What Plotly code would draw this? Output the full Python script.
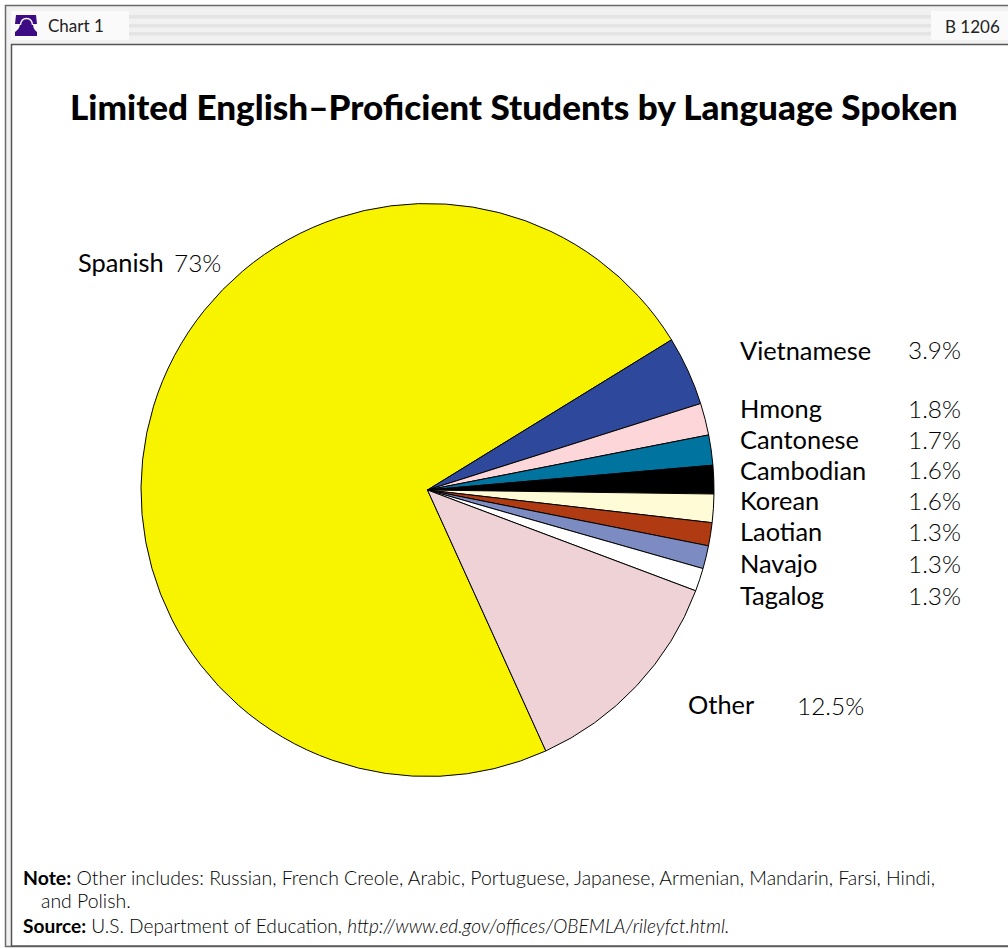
import plotly.graph_objects as go

# Share of limited English-proficient students, clockwise from Spanish
languages = ["Spanish", "Vietnamese", "Hmong", "Cantonese", "Cambodian",
             "Korean", "Laotian", "Navajo", "Tagalog", "Other"]
shares = [73, 3.9, 1.8, 1.7, 1.6, 1.6, 1.3, 1.3, 1.3, 12.5]
share_labels = ["73%", "3.9%", "1.8%", "1.7%", "1.6%", "1.6%", "1.3%", "1.3%", "1.3%", "12.5%"]
slice_colors = ["#f8f400", "#2e489b", "#fcd6d8", "#00739f", "#000000",
                "#fffbd6", "#b03a12", "#7c8cc2", "#ffffff", "#efd2d5"]

W, H = 1008, 949
BODY = "Lato"


def px(x):
    return x / W


def py(y):
    return 1 - y / H


def rect(x0, y0, x1, y1, fill=None, line=None, width=1):
    return dict(type="rect", xref="paper", yref="paper",
                x0=px(x0), x1=px(x1), y0=py(y0), y1=py(y1),
                fillcolor=fill or "rgba(0,0,0,0)",
                line=dict(color=line or "rgba(0,0,0,0)", width=width if line else 0),
                layer="below")


def text(x, y, s, size, anchor="left", weight=400, color="#111111", family=BODY):
    return dict(xref="paper", yref="paper", x=px(x), y=py(y), text=s, showarrow=False,
                xanchor=anchor, yanchor="middle", align="left",
                font=dict(family=family, size=size, color=color, weight=weight))


shapes = [
    rect(5.5, 5.5, 1012, 946.5, fill="#f1f1f1", line="#6a6a6a", width=1.5),
    rect(11, 11, 129, 40, fill="#fafafa"),
    rect(931, 11, 1008, 40, fill="#fafafa"),
]
for top in (15, 24, 32):
    shapes.append(rect(129, top, 931, top + 3.5, fill="#e4e4e4"))
shapes.append(rect(11.5, 44.5, 1012, 946, fill="#ffffff", line="#555555", width=1.5))

# Bell emblem in the header tab: flat-topped silhouette with a thin white arch
shapes.append(dict(type="path", xref="paper", yref="paper", layer="above",
                   path=" ".join([
                       f"M {px(15)} {py(36)}", f"L {px(37)} {py(36)}", f"L {px(37)} {py(32)}",
                       f"C {px(34)} {py(30)} {px(33)} {py(27)} {px(33)} {py(24)}",
                       f"L {px(37)} {py(24)}", f"L {px(36)} {py(15)}", f"L {px(16)} {py(15)}",
                       f"L {px(15)} {py(24)}", f"L {px(20)} {py(24)}",
                       f"C {px(20)} {py(27)} {px(18)} {py(30)} {px(15)} {py(32)}", "Z"]),
                   fillcolor="#3d0c84", line=dict(width=0)))
shapes.append(dict(type="path", xref="paper", yref="paper", layer="above",
                   path=" ".join([
                       f"M {px(20.5)} {py(25)}",
                       f"C {px(21)} {py(20)} {px(23)} {py(18.5)} {px(26.5)} {py(18.5)}",
                       f"C {px(30)} {py(18.5)} {px(32)} {py(20)} {px(32.5)} {py(25)}"]),
                   fillcolor="rgba(0,0,0,0)", line=dict(color="#ffffff", width=1.3)))

ann = [
    text(46, 25.5, "Chart 1", 17, color="#222222"),
    text(943, 26, "B 1206", 17, color="#222222"),
    text(68, 106, "Limited English–Proficient Students by Language Spoken", 35.1,
         weight=900, color="#000000"),
]

# Row positions for the slice labels beside the pie
label_x = {"Spanish": 76, "Other": 686}
value_x = {"Spanish": 172, "Other": 795}
row_y = {"Spanish": 262, "Vietnamese": 350, "Hmong": 408, "Cantonese": 439, "Cambodian": 470,
         "Korean": 500, "Laotian": 531, "Navajo": 563, "Tagalog": 595, "Other": 704}
for name, share in zip(languages, share_labels):
    y = row_y[name]
    if name in label_x:
        ann.append(text(label_x[name], y, name, 25.4, color="#000000"))
        ann.append(text(value_x[name], y + 1, share, 24.4, weight=300, color="#000000"))
    else:
        ann.append(text(737.5, y, name, 25.4, color="#000000"))
        ann.append(text(963, y, share, 24.4, anchor="right", weight=300, color="#000000"))

ann += [
    text(21, 877, "<b>Note:</b> Other includes: Russian, French Creole, Arabic, Portuguese, Japanese, "
                  "Armenian, Mandarin, Farsi, Hindi,", 19.45, weight=300, color="#000000"),
    text(39, 900, "and Polish.", 19.45, weight=300, color="#000000"),
    text(21, 925, "<b>Source:</b> U.S. Department of Education, "
                  "<i>http://www.ed.gov/offices/OBEMLA/rileyfct.html.</i>", 19.1, weight=300,
         color="#000000"),
]

fig = go.Figure(go.Pie(
    labels=languages, values=shares, sort=False, direction="clockwise", rotation=155.6,
    textinfo="none", hoverinfo="label+percent", showlegend=False,
    marker=dict(colors=slice_colors, line=dict(color="#000000", width=1)),
    domain=dict(x=[px(141), px(714)], y=[py(776.5), py(203.5)]),
))
fig.update_layout(width=W, height=H, margin=dict(l=0, r=0, t=0, b=0),
                  paper_bgcolor="#ffffff", shapes=shapes, annotations=ann)
fig.write_html("out.html", config=dict(displayModeBar=False))
